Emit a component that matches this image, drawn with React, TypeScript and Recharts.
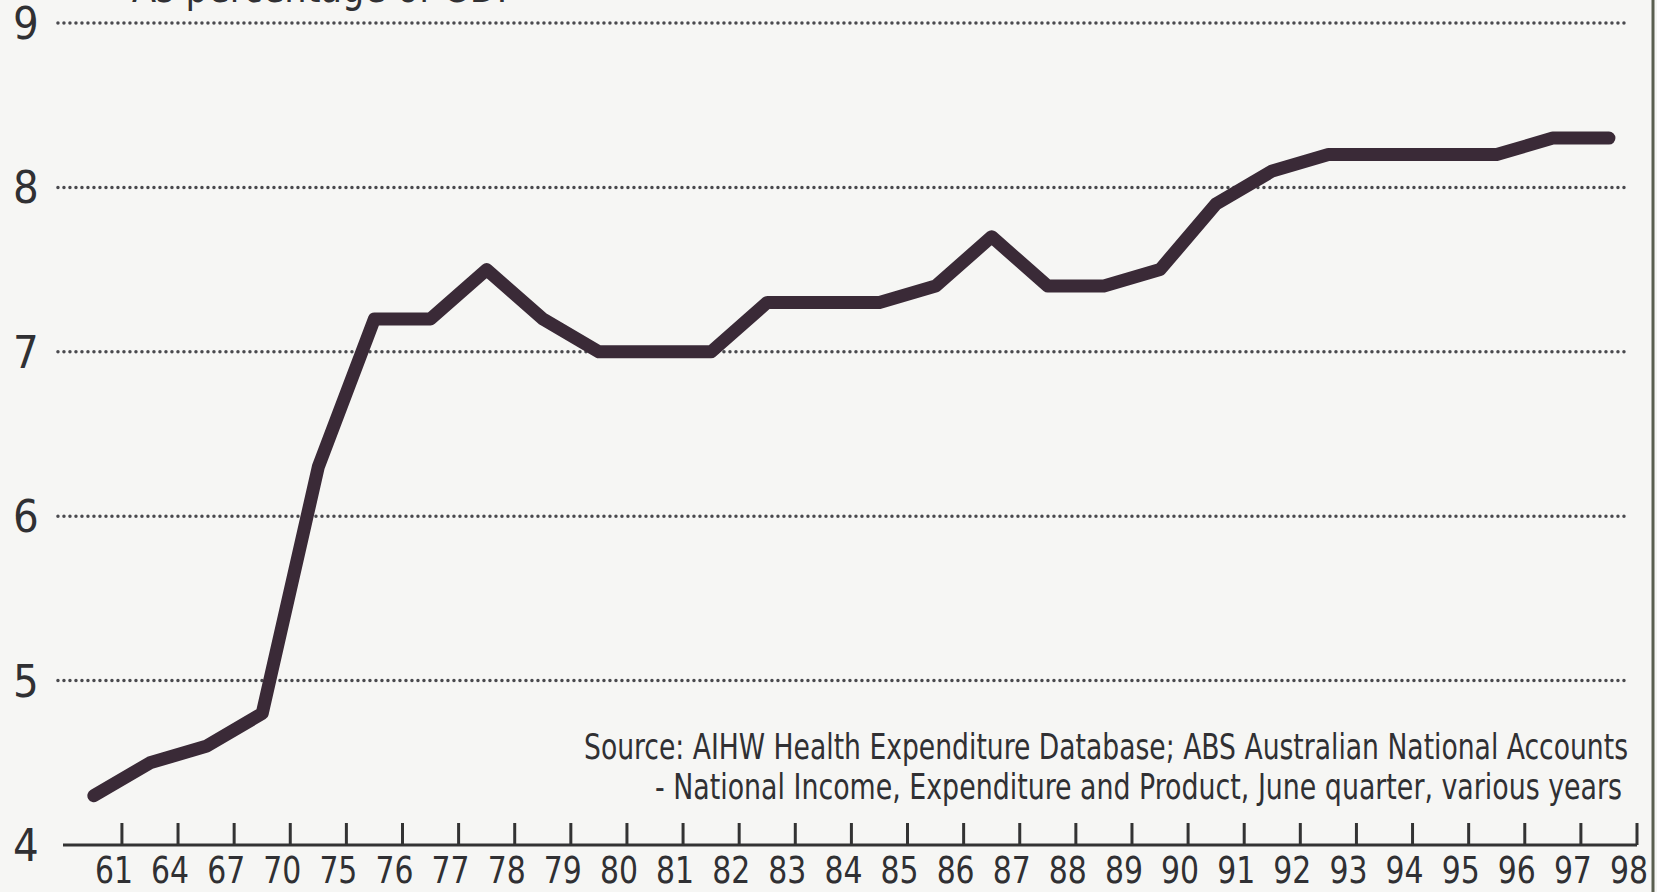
import React from "react";
import { LineChart, Line, XAxis, YAxis, ReferenceLine } from "recharts";

const years = ["61","64","67","70","75","76","77","78","79","80","81","82","83","84","85","86","87","88","89","90","91","92","93","94","95","96","97","98"];
const shareOfGdp = [4.3,4.5,4.6,4.8,6.3,7.2,7.2,7.5,7.2,7.0,7.0,7.0,7.3,7.3,7.3,7.4,7.7,7.4,7.4,7.5,7.9,8.1,8.2,8.2,8.2,8.2,8.3,8.3];
const yTicks = [4,5,6,7,8,9];
const gridValues = [5,6,7,8,9];
const titleText = "As percentage of GDP";
const sourceLine1 = "Source: AIHW Health Expenditure Database; ABS Australian National Accounts";
const sourceLine2 = "- National Income, Expenditure and Product, June quarter, various years";

const data = years.map((y, i) => ({ x: i, year: y, v: shareOfGdp[i] }));
const xTickPositions = years.map((_, i) => i + 0.5);

const FONT = "'Liberation Sans Narrow', 'DejaVu Sans Condensed', 'Arial Narrow', sans-serif";
const INK = "#303033";
const LINE = "#3a2a37";

const XTick = (props: any) => {
  const { x, y, payload } = props;
  const idx = Math.round(payload.value - 0.5);
  return (
    <g>
      <line x1={x} y1={y} x2={x} y2={y - 22} stroke="#333" strokeWidth={3} />
      <text
        x={x - 27}
        y={y + 38}
        fontFamily={FONT}
        fontSize={38}
        fill={INK}
        textLength={38}
        lengthAdjust="spacingAndGlyphs"
      >
        {years[idx]}
      </text>
    </g>
  );
};

const YTick = (props: any) => {
  const { y, payload } = props;
  return (
    <text x={26} y={y + 16} textAnchor="middle" fontFamily={FONT} fontSize={45} fill={INK}>
      {payload.value}
    </text>
  );
};

export default function App() {
  return (
    <div style={{ position: "absolute", left: 0, top: 0, width: 1657, height: 892, background: "#f6f6f4", overflow: "hidden" }}>
      <LineChart
        width={1657}
        height={892}
        data={data}
        margin={{ top: 23, right: 20, bottom: 0, left: 0 }}
      >
        <XAxis
          type="number"
          dataKey="x"
          domain={[-0.55, 27.5]}
          ticks={xTickPositions}
          interval={0}
          allowDataOverflow
          height={47}
          tickSize={0}
          tickMargin={0}
          tickLine={false}
          axisLine={{ stroke: "#333", strokeWidth: 3 }}
          tick={<XTick />}
        />
        <YAxis
          type="number"
          domain={[4, 9]}
          ticks={yTicks}
          interval={0}
          width={63}
          axisLine={false}
          tickLine={false}
          tick={<YTick />}
        />
        {gridValues.map((g) => (
          <ReferenceLine
            key={g}
            ifOverflow="visible"
            segment={[{ x: -0.64, y: g }, { x: 27.29, y: g }]}
            stroke="#4a4a4e"
            strokeWidth={3.5}
            strokeDasharray="0 6"
            strokeLinecap="round"
          />
        ))}
        <Line
          type="linear"
          dataKey="v"
          stroke={LINE}
          strokeWidth={13}
          strokeLinecap="round"
          strokeLinejoin="round"
          dot={false}
          activeDot={false}
          isAnimationActive={false}
        />
      </LineChart>
      <svg width={1657} height={892} style={{ position: "absolute", left: 0, top: 0, pointerEvents: "none" }}>
        <text x={132} y={2} fontFamily={FONT} fontSize={44} fill={INK} textLength={386} lengthAdjust="spacingAndGlyphs">
          {titleText}
        </text>
        <text x={584} y={759} fontFamily={FONT} fontSize={36} fill={INK} textLength={1044} lengthAdjust="spacingAndGlyphs">
          {sourceLine1}
        </text>
        <text x={655} y={799} fontFamily={FONT} fontSize={36} fill={INK} textLength={967} lengthAdjust="spacingAndGlyphs">
          {sourceLine2}
        </text>
        <line x1={1653} y1={0} x2={1653} y2={892} stroke="#5a5f50" strokeWidth={3} />
      </svg>
    </div>
  );
}
